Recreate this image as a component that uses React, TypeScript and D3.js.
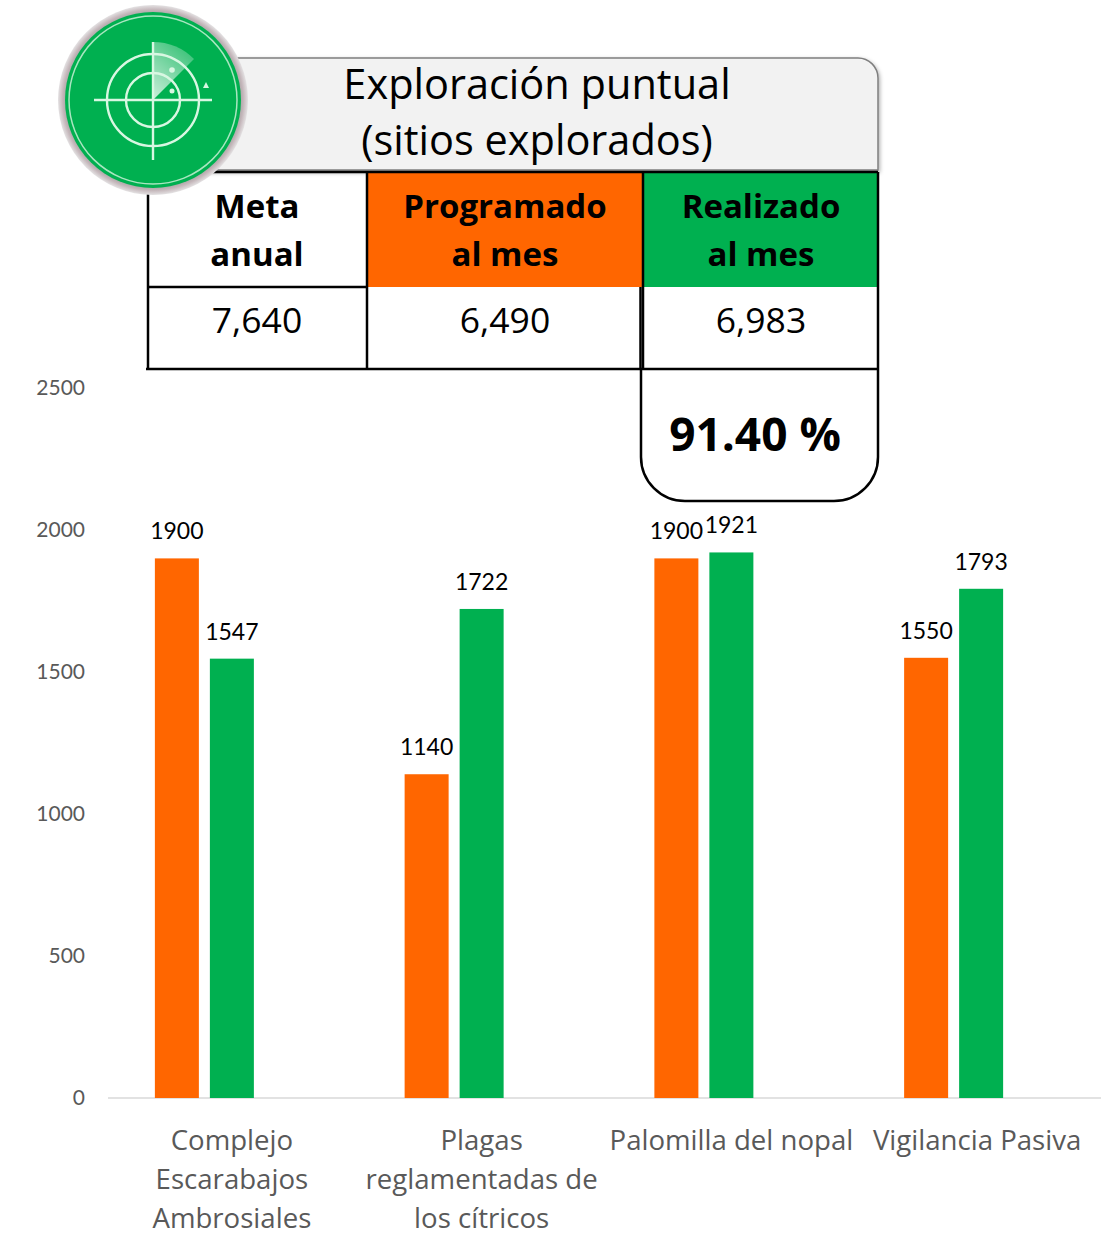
import React from "react";
import * as d3 from "d3";

const categories = ["Complejo Escarabajos Ambrosiales", "Plagas reglamentadas de los cítricos", "Palomilla del nopal", "Vigilancia Pasiva"];
const categoryLines = [["Complejo", "Escarabajos", "Ambrosiales"], ["Plagas", "reglamentadas de", "los cítricos"], ["Palomilla del nopal"], ["Vigilancia Pasiva"]];
const categoryShift = [0, 0, 0, -4];
const programado = [1900, 1140, 1900, 1550];
const realizado = [1547, 1722, 1921, 1793];
const seriesSlots = ["Programado", "Realizado", "(sin datos)"];
const yTicks = [0, 500, 1000, 1500, 2000, 2500];
const titleLines = ["Exploración puntual", "(sitios explorados)"];
const tableHeaders = [["Meta", "anual"], ["Programado", "al mes"], ["Realizado", "al mes"]];
const tableValues = ["7,640", "6,490", "6,983"];
const percentage = "91.40 %";

const ORANGE = "#ff6600";
const GREEN = "#00b050";
const CAL = "Lato, Carlito, sans-serif";
const TITLE = "'Open Sans', 'Noto Sans', sans-serif";

const y = d3.scaleLinear().domain([0, 2500]).range([1098, 388]);
const x0 = d3.scaleBand<string>().domain(categories).range([107, 1106]);
const x1 = d3.scaleBand<string>().domain(seriesSlots).range([-77, 77]).paddingInner(0.2);
const colX = [148, 367, 643, 878];
const colMid = [257, 505, 761];

function Radar() {
  const cx = 153, cy = 100;
  const sweep = d3.arc()({ innerRadius: 0, outerRadius: 58, startAngle: 0, endAngle: Math.PI / 4 }) as string;
  return (
    <g>
      <circle cx={cx} cy={cy} r={95} fill="url(#rim)" />
      <circle cx={cx} cy={cy} r={88} fill={GREEN} />
      <circle cx={cx} cy={cy} r={84} fill="none" stroke="#a8e6c0" strokeWidth={1.5} />
      <path d={sweep} transform={`translate(${cx},${cy})`} fill="url(#sweep)" />
      <g fill="none" stroke="#d8f7e2" strokeWidth={2.4}>
        <circle cx={cx} cy={cy} r={27} />
        <circle cx={cx} cy={cy} r={46} />
        <line x1={cx - 59} x2={cx + 59} y1={cy} y2={cy} />
        <line x1={cx} x2={cx} y1={cy - 58} y2={cy + 60} />
      </g>
      <circle cx={172} cy={70} r={2.8} fill="#d8f7e2" />
      <circle cx={172} cy={91} r={2.5} fill="#d8f7e2" />
      <path d="M206,82 l3,6 h-6 z" fill="#d8f7e2" />
    </g>
  );
}

export default function App() {
  return (
    <svg width={1101} height={1233} viewBox="0 0 1101 1233" style={{ position: "absolute", left: 0, top: 0, background: "#fff" }}>
      <defs>
        <radialGradient id="rim">
          <stop offset="0.88" stopColor="#8f9a94" />
          <stop offset="0.95" stopColor="#c4b6ba" />
          <stop offset="1" stopColor="#e4e2e3" />
        </radialGradient>
        <linearGradient id="sweep" x1="0" y1="1" x2="0.6" y2="0">
          <stop offset="0" stopColor="#ffffff" stopOpacity="0.8" />
          <stop offset="1" stopColor="#ffffff" stopOpacity="0.25" />
        </linearGradient>
        <filter id="shadow" x="-5%" y="-10%" width="110%" height="125%">
          <feDropShadow dx="1" dy="2" stdDeviation="2" floodColor="#000" floodOpacity="0.35" />
        </filter>
      </defs>

      {/* chart */}
      <g fontFamily={CAL}>
        {yTicks.map((t) => (
          <text key={t} x={85} y={y(t) - 0.5} dy="0.34em" textAnchor="end" fontSize={21} fill="#595959">{t}</text>
        ))}
        <line x1={108} x2={1101} y1={y(0)} y2={y(0)} stroke="#d9d9d9" strokeWidth={1.5} />
        {categories.map((c, i) => {
          const cx = x0(c)! + x0.bandwidth() / 2;
          const a = cx + x1(seriesSlots[0])!;
          const b = cx + x1(seriesSlots[1])!;
          const w = x1.bandwidth();
          return (
            <g key={c}>
              <rect x={a} y={y(programado[i])} width={w} height={y(0) - y(programado[i])} fill={ORANGE} />
              <rect x={b} y={y(realizado[i])} width={w} height={y(0) - y(realizado[i])} fill={GREEN} />
              <text x={a + w / 2} y={y(programado[i]) - 19} textAnchor="middle" fontSize={23} fill="#000">{programado[i]}</text>
              <text x={b + w / 2} y={y(realizado[i]) - 19} textAnchor="middle" fontSize={23} fill="#000">{realizado[i]}</text>
              {categoryLines[i].map((l, j) => (
                <text key={l} x={cx + categoryShift[i]} y={1150 + j * 39} textAnchor="middle" fontFamily={TITLE} fontSize={27.6} fill="#595959">{l}</text>
              ))}
            </g>
          );
        })}
      </g>

      {/* percentage box */}
      <path d={`M641,369 V457 a44,44 0 0 0 44,44 H834 a44,44 0 0 0 44,-44 V369`} fill="#fff" stroke="#000" strokeWidth={2.5} />
      <text x={755} y={451} textAnchor="middle" fontFamily={TITLE} fontWeight={700} fontSize={46} fill="#000">{percentage}</text>

      {/* title */}
      <path d="M153,58 H858 a20,20 0 0 1 20,20 V170 H153 Z" fill="#f2f2f2" stroke="#7f7f7f" strokeWidth={1.5} filter="url(#shadow)" />
      {titleLines.map((l, i) => (
        <text key={l} x={537} y={99 + i * 56} textAnchor="middle" fontFamily={TITLE} fontSize={41.5} fill="#000">{l}</text>
      ))}

      {/* table */}
      <g fontFamily={TITLE}>
        <rect x={colX[1]} y={171} width={colX[2] - colX[1]} height={116} fill={ORANGE} />
        <rect x={colX[2]} y={171} width={colX[3] - colX[2]} height={116} fill={GREEN} />
        {tableHeaders.map((h, i) =>
          h.map((l, j) => (
            <text key={l + i} x={colMid[i]} y={218 + j * 48} textAnchor="middle" fontWeight={700} fontSize={33} fill="#000">{l}</text>
          ))
        )}
        {tableValues.map((v, i) => (
          <text key={v} x={colMid[i]} y={333} textAnchor="middle" fontSize={35.5} fill="#000">{v}</text>
        ))}
        <g stroke="#000" strokeWidth={2.5} fill="none">
          <line x1={colX[0]} x2={colX[3]} y1={172} y2={172} />
          <line x1={colX[0]} x2={colX[1]} y1={287} y2={287} />
          <line x1={colX[0] - 2} x2={colX[3] + 1} y1={369} y2={369} />
          {colX.map((cx) => <line key={cx} x1={cx} x2={cx} y1={172} y2={369} />)}
          <line x1={640.5} x2={640.5} y1={287} y2={369} />
        </g>
      </g>

      <Radar />
    </svg>
  );
}
